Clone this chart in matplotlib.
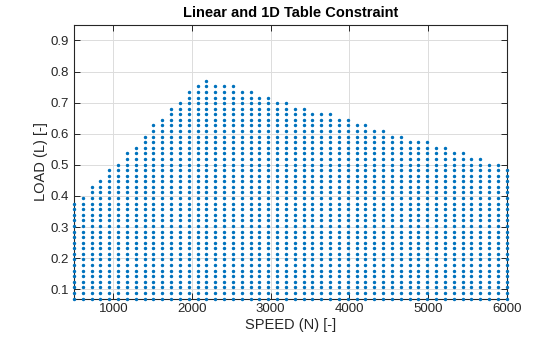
import numpy as np
import matplotlib
matplotlib.use("Agg")
import matplotlib.pyplot as plt

# Grid of operating points
speed_min, speed_max, n_speed = 500, 6000, 50
load_min, load_max, n_load = 0.07, 0.95, 50

# Maximum allowed LOAD per SPEED column
max_load = [0.375, 0.393, 0.429, 0.447, 0.483, 0.501, 0.537, 0.555, 0.591, 0.627,
            0.645, 0.681, 0.699, 0.735, 0.752, 0.770, 0.752, 0.752, 0.752, 0.735,
            0.735, 0.717, 0.717, 0.699, 0.699, 0.681, 0.681, 0.663, 0.663, 0.663,
            0.645, 0.645, 0.627, 0.627, 0.609, 0.609, 0.591, 0.591, 0.573, 0.573,
            0.573, 0.555, 0.555, 0.537, 0.537, 0.519, 0.519, 0.501, 0.501, 0.483]

xticks = [1000, 2000, 3000, 4000, 5000, 6000]
yticks = [0.1, 0.2, 0.3, 0.4, 0.5, 0.6, 0.7, 0.8, 0.9]

speeds = np.linspace(speed_min, speed_max, n_speed)
loads = np.linspace(load_min, load_max, n_load)
S, L = np.meshgrid(speeds, loads)
lim = np.array(max_load)[None, :]
mask = L <= lim + 0.005

plt.rcParams['font.family'] = ['Liberation Sans', 'DejaVu Sans']
fig = plt.figure(figsize=(5.6, 3.37), dpi=100)
ax = fig.add_axes([0.132, 0.114, 0.773, 0.812])
ax.plot(S[mask], L[mask], '.', color='#0072BD', markersize=2.9, clip_on=False, zorder=3)
ax.set_xlim(speed_min, speed_max)
ax.set_ylim(0.07, 0.95)
ax.set_xticks(xticks)
ax.set_yticks(yticks)
ax.set_yticklabels([f"{v:.1f}" for v in yticks])
ax.grid(True, color='#dcdcdc', linewidth=0.7)
ax.set_axisbelow(True)
ax.tick_params(direction='in', length=4, width=0.7, labelsize=9.5, colors='#262626',
               top=True, right=True)
for s in ax.spines.values():
    s.set_color('#262626')
    s.set_linewidth(0.8)
ax.set_xlabel('SPEED (N) [-]', fontsize=10.5, color='#262626', labelpad=2)
ax.set_ylabel('LOAD (L) [-]', fontsize=10.5, color='#262626', labelpad=2)
ax.set_title('Linear and 1D Table Constraint', fontsize=10.5, fontweight='bold', pad=6)
fig.savefig('out.png', dpi=100)
